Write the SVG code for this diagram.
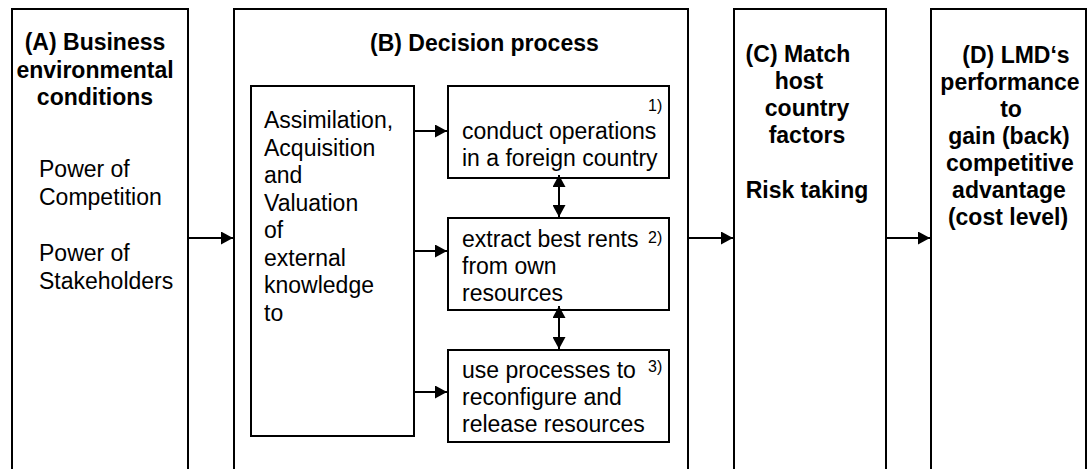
<svg xmlns="http://www.w3.org/2000/svg" width="1088" height="469" viewBox="0 0 1088 469">
  <style>
    .frame { fill: #ffffff; stroke: #000000; stroke-width: 2; }
    .box { fill: #ffffff; stroke: #000000; stroke-width: 2; }
    .link { fill: none; stroke: #000000; stroke-width: 2; }
    text { font-family: "Liberation Sans", Arial, sans-serif; fill: #000000; }
    .head { font-size: 23px; font-weight: bold; }
    .body { font-size: 23px; }
    .num { font-size: 16px; }
    .mid { text-anchor: middle; }
  </style>
  <defs>
    <marker id="arrow" markerUnits="userSpaceOnUse" markerWidth="13" markerHeight="13" refX="12" refY="6.5" orient="auto-start-reverse">
      <path d="M0,0 L12,6.5 L0,13 Z" fill="#000000"/>
    </marker>
  </defs>
  <rect width="1088" height="469" fill="#ffffff"/>

  <!-- (A) business environment column -->
  <g id="colA">
    <rect class="frame" x="12" y="9" width="176" height="480"/>
    <text class="head mid" x="95" y="50">(A) Business</text>
    <text class="head mid" x="95" y="77.5">environmental</text>
    <text class="head mid" x="95" y="105">conditions</text>
    <text class="body" x="39" y="177">Power of</text>
    <text class="body" x="39" y="205">Competition</text>
    <text class="body" x="39" y="261">Power of</text>
    <text class="body" x="39" y="289">Stakeholders</text>
  </g>

  <!-- (B) decision process column -->
  <g id="colB">
    <rect class="frame" x="234" y="9" width="454" height="480"/>
    <text class="head" x="370" y="51">(B) Decision process</text>
  </g>

  <g id="knowledge">
    <rect class="box" x="251" y="86" width="163" height="350"/>
    <text class="body" x="264" y="128">Assimilation,</text>
    <text class="body" x="264" y="155.5">Acquisition</text>
    <text class="body" x="264" y="183">and</text>
    <text class="body" x="264" y="210.5">Valuation</text>
    <text class="body" x="264" y="238">of</text>
    <text class="body" x="264" y="265.5">external</text>
    <text class="body" x="264" y="293">knowledge</text>
    <text class="body" x="264" y="320.5">to</text>
  </g>

  <g id="step1">
    <rect class="box" x="448" y="86" width="221" height="92"/>
    <text class="num" x="648" y="111">1)</text>
    <text class="body" x="462" y="139">conduct operations</text>
    <text class="body" x="462" y="166">in a foreign country</text>
  </g>

  <g id="step2">
    <rect class="box" x="448" y="218" width="221" height="92"/>
    <text class="num" x="648" y="243">2)</text>
    <text class="body" x="462" y="247">extract best rents</text>
    <text class="body" x="462" y="274">from own</text>
    <text class="body" x="462" y="301">resources</text>
  </g>

  <g id="step3">
    <rect class="box" x="448" y="350" width="221" height="92"/>
    <text class="num" x="648" y="372">3)</text>
    <text class="body" x="462" y="378">use processes to</text>
    <text class="body" x="462" y="405">reconfigure and</text>
    <text class="body" x="462" y="432">release resources</text>
  </g>

  <!-- (C) host country column -->
  <g id="colC">
    <rect class="frame" x="734" y="9" width="152" height="480"/>
    <text class="head mid" x="798" y="62">(C) Match</text>
    <text class="head mid" x="799" y="89">host</text>
    <text class="head mid" x="807" y="116">country</text>
    <text class="head mid" x="807" y="143">factors</text>
    <text class="head mid" x="807" y="198">Risk taking</text>
  </g>

  <!-- (D) performance column -->
  <g id="colD">
    <rect class="frame" x="931" y="9" width="155" height="480"/>
    <text class="head mid" x="1016" y="63">(D) LMD‘s</text>
    <text class="head mid" x="1010" y="90">performance</text>
    <text class="head mid" x="1011" y="117">to</text>
    <text class="head mid" x="1009" y="144">gain (back)</text>
    <text class="head mid" x="1010" y="171">competitive</text>
    <text class="head mid" x="1009" y="198">advantage</text>
    <text class="head mid" x="1008" y="225">(cost level)</text>
  </g>

  <!-- connectors -->
  <g id="connectors">
    <line class="link" x1="188" y1="238" x2="233" y2="238" marker-end="url(#arrow)"/>
    <line class="link" x1="688" y1="238" x2="733" y2="238" marker-end="url(#arrow)"/>
    <line class="link" x1="886" y1="238" x2="930" y2="238" marker-end="url(#arrow)"/>
    <line class="link" x1="414" y1="131" x2="447" y2="131" marker-end="url(#arrow)"/>
    <line class="link" x1="414" y1="251" x2="447" y2="251" marker-end="url(#arrow)"/>
    <line class="link" x1="414" y1="392" x2="447" y2="392" marker-end="url(#arrow)"/>
    <line class="link" x1="559" y1="175" x2="559" y2="217" marker-start="url(#arrow)" marker-end="url(#arrow)"/>
    <line class="link" x1="559" y1="306" x2="559" y2="349" marker-start="url(#arrow)" marker-end="url(#arrow)"/>
  </g>
</svg>
